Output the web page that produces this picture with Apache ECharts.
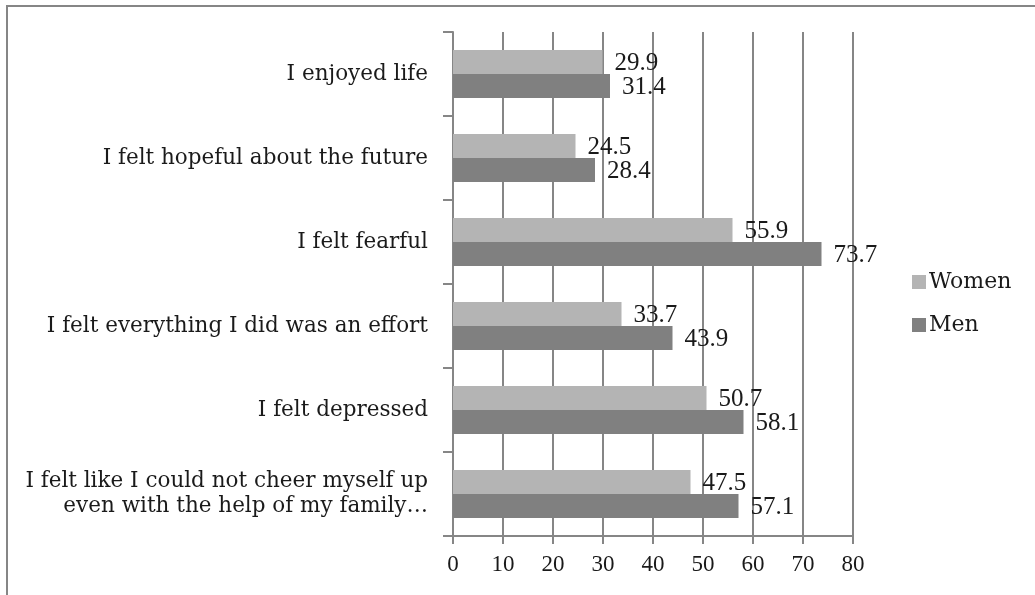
<!DOCTYPE html>
<html>
<head>
<meta charset="utf-8">
<style>
  html, body { margin: 0; padding: 0; background: #ffffff; }
  #chart { width: 1035px; height: 595px; }
</style>
<script src="https://cdn.jsdelivr.net/npm/echarts@6/dist/echarts.min.js"></script>
</head>
<body>
<div id="chart"></div>
<script>
// survey feelings chart — women vs men, horizontal bars
var categories = [
  'I enjoyed life',
  'I felt hopeful about the future',
  'I felt fearful',
  'I felt everything I did was an effort',
  'I felt depressed',
  'I felt like I could not cheer myself up\neven with the help of my family\u2026'
];
var women = [29.9, 24.5, 55.9, 33.7, 50.7, 47.5];
var men = [31.4, 28.4, 73.7, 43.9, 58.1, 57.1];
var seriesNames = ['Women', 'Men'];

var font = '"Liberation Serif", "DejaVu Serif", serif';
var wideFont = '"DejaVu Serif", "Liberation Serif", serif';
var ink = '#1a1a1a';
var axisGray = '#868686';
var womenColor = '#b4b4b4';
var menColor = '#808080';

var chart = echarts.init(document.getElementById('chart'), null, { renderer: 'canvas' });

function labelCfg() {
  return {
    show: true,
    position: 'right',
    distance: 12,
    offset: [0, 1],
    color: ink,
    fontFamily: font,
    fontSize: 25
  };
}

chart.setOption({
  animation: false,
  textStyle: { fontFamily: font },
  grid: { left: 453, right: 182, top: 32, bottom: 59, containLabel: false },
  legend: {
    orient: 'vertical',
    left: 907,
    top: 266,
    itemWidth: 14,
    itemHeight: 14,
    itemGap: 21,
    icon: 'rect',
    data: seriesNames,
    textStyle: { color: ink, fontFamily: wideFont, fontSize: 22, padding: [0, 0, 0, -2] }
  },
  xAxis: {
    type: 'value',
    min: 0,
    max: 80,
    interval: 10,
    axisLine: { show: true, lineStyle: { color: axisGray, width: 2 } },
    axisTick: { show: true, length: 8, lineStyle: { color: axisGray, width: 2 } },
    splitLine: { show: true, lineStyle: { color: axisGray, width: 2 } },
    axisLabel: { color: ink, fontFamily: font, fontSize: 23, margin: 17 }
  },
  yAxis: {
    type: 'category',
    inverse: true,
    data: categories,
    axisLine: { show: true, lineStyle: { color: axisGray, width: 2 } },
    axisTick: { show: true, length: 10, lineStyle: { color: axisGray, width: 2 } },
    axisLabel: {
      color: ink,
      fontFamily: wideFont,
      fontSize: 21.5,
      margin: 25,
      lineHeight: 25,
      align: 'right'
    }
  },
  graphic: [{
    type: 'rect',
    shape: { x: 7, y: 6, width: 1100, height: 700 },
    style: { fill: null, stroke: axisGray, lineWidth: 2 },
    silent: true
  }],
  series: [
    {
      name: seriesNames[0],
      type: 'bar',
      data: women,
      barGap: '0%',
      barCategoryGap: '43%',
      itemStyle: { color: womenColor },
      label: labelCfg()
    },
    {
      name: seriesNames[1],
      type: 'bar',
      data: men,
      barGap: '0%',
      barCategoryGap: '43%',
      itemStyle: { color: menColor },
      label: labelCfg()
    }
  ]
});
window.addEventListener('resize', function() { chart.resize(); });
</script>
</body>
</html>
